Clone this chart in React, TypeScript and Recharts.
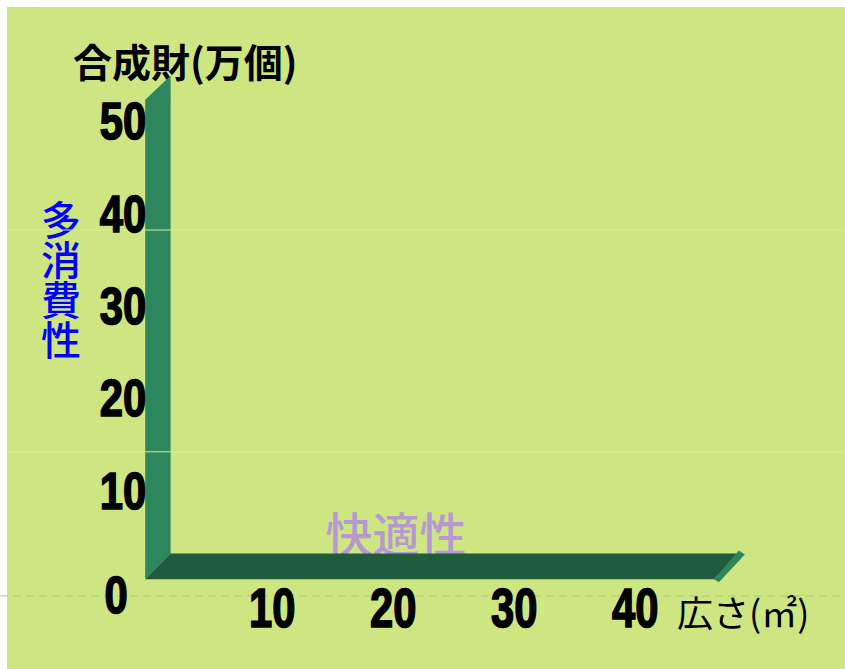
import React from 'react';
import {
  ComposedChart,
  XAxis,
  YAxis,
  ReferenceArea,
  ReferenceLine,
  Customized,
} from 'recharts';

const xTicks = [10, 20, 30, 40];
const yTicks = [0, 10, 20, 30, 40, 50];
const xDomain: [number, number] = [0, 49];
const yDomain: [number, number] = [0, 55];

// the 3D axis walls (value space)
const wallX: [number, number] = [-0.5, 1.6];
const wallY: [number, number] = [0.4, 52.3];
const floorX: [number, number] = [-0.5, 46.5];
const floorY: [number, number] = [0.4, 3.2];

const gridY = [38.2, 14.2];
const baseLineY = -1.4;
const spanX: [number, number] = [-12.5, 57.3];

const yTitle = '合成財(万個)';
const xTitle = '広さ(㎡)';
const sideLabel = '多消費性';
const floorLabel = '快適性';

const W = 845;
const H = 669;
const DEPTH = 25;
const digitFont = "'Liberation Sans', Arial, sans-serif";
const cjkFont = "'Noto Sans CJK JP', 'Noto Sans CJK SC', sans-serif";

const WallShape = (p: any) => {
  const { x, y, width, height } = p;
  const b = y + height;
  return (
    <polygon
      points={`${x},${b} ${x},${y} ${x + width},${y - 24} ${x + width},${b - 26}`}
      fill="#2e875c"
    />
  );
};

const FloorShape = (p: any) => {
  const { x, y, width, height } = p;
  const b = y + height;
  const r = x + width;
  return (
    <g>
      <polygon
        points={`${x},${b} ${x + DEPTH},${y} ${r + DEPTH},${y} ${r},${b}`}
        fill="#1f5c3b"
      />
      <polygon
        points={`${r},${b} ${r + DEPTH},${y - 3} ${r + DEPTH + 6},${y + 1} ${r + 5},${b + 3}`}
        fill="#2e875c"
      />
    </g>
  );
};

// heavy condensed digits
const Digits = ({ x, y, fs, sx, anchor, value }: any) => (
  <g transform={`translate(${x},${y}) scale(${sx},1)`}>
    <text
      x={0}
      y={fs * 0.358}
      textAnchor={anchor}
      fontFamily={digitFont}
      fontWeight={900}
      fontSize={fs}
      fill="#000"
      stroke="#000"
      strokeWidth={1.6}
    >
      {value}
    </text>
  </g>
);

const YTick = (p: any) => {
  const { x, y, payload } = p;
  if (payload.value === 0) {
    return <Digits x={x - 35} y={y + 12} fs={51} sx={0.82} anchor="middle" value={payload.value} />;
  }
  return <Digits x={x - 5} y={y} fs={51} sx={0.82} anchor="end" value={payload.value} />;
};

const XTick = (p: any) => {
  const { x, y, payload } = p;
  return <Digits x={x} y={y + 24} fs={55} sx={0.76} anchor="middle" value={payload.value} />;
};

const Labels = () => (
  <g>
    <text x={73} y={60} dominantBaseline="central" fontFamily={cjkFont} fontWeight="bold" fontSize={39} fill="#000">
      {yTitle}
    </text>
    <text x={677} y={611} dominantBaseline="central" fontFamily={cjkFont} fontSize={36} fill="#000">
      {xTitle}
    </text>
    <text
      x={61}
      y={200}
      style={{ writingMode: 'vertical-rl' }}
      fontFamily={cjkFont}
      fontWeight={500}
      fontSize={40}
      fill="#0000ff"
    >
      {sideLabel}
    </text>
    <text x={396} y={531} textAnchor="middle" dominantBaseline="central" fontFamily={cjkFont} fontWeight={500} fontSize={47} fill="#b699d0">
      {floorLabel}
    </text>
  </g>
);

export default function App() {
  return (
    <div style={{ position: 'absolute', left: 0, top: 0, width: W, height: H, background: '#fff' }}>
      <div style={{ position: 'absolute', left: 7, top: 7, right: 0, bottom: 0, background: '#cee682' }} />
      <div style={{ position: 'absolute', left: 0, top: 0 }}>
        <ComposedChart width={W} height={H} margin={{ top: 74.8, right: 100.85, bottom: 0, left: 0 }}>
          <XAxis
            type="number"
            dataKey="x"
            domain={xDomain}
            ticks={xTicks}
            allowDataOverflow
            axisLine={false}
            tickLine={false}
            tickSize={0}
            tickMargin={0}
            height={86}
            tick={<XTick />}
            interval={0}
          />
          <YAxis
            type="number"
            dataKey="y"
            domain={yDomain}
            ticks={yTicks}
            allowDataOverflow
            axisLine={false}
            tickLine={false}
            tickSize={0}
            tickMargin={0}
            width={151.25}
            tick={<YTick />}
            interval={0}
          />
          {gridY.map((v) => (
            <ReferenceLine
              key={v}
              segment={[{ x: spanX[0] + 0.6, y: v }, { x: spanX[1], y: v }]}
              ifOverflow="visible"
              stroke="#d6ec90"
              strokeWidth={1}
            />
          ))}
          <ReferenceLine
            segment={[{ x: spanX[0], y: baseLineY }, { x: spanX[1], y: baseLineY }]}
            ifOverflow="visible"
            stroke="#a9c98a"
            strokeWidth={1}
            strokeDasharray="8 5"
          />
          <ReferenceArea x1={floorX[0]} x2={floorX[1]} y1={floorY[0]} y2={floorY[1]} ifOverflow="visible" shape={FloorShape} />
          <ReferenceArea x1={wallX[0]} x2={wallX[1]} y1={wallY[0]} y2={wallY[1]} ifOverflow="visible" shape={WallShape} />
          <Customized component={Labels} />
        </ComposedChart>
      </div>
    </div>
  );
}
